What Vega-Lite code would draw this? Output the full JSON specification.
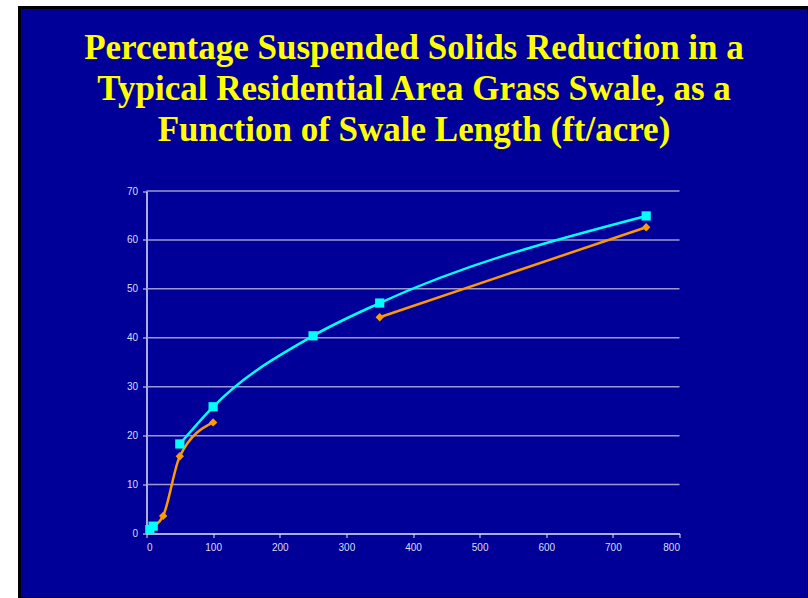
{
  "$schema": "https://vega.github.io/schema/vega-lite/v6.json",
  "width": 789,
  "height": 591,
  "autosize": {"type": "none"},
  "padding": {"left": 19.5, "top": 7.5, "right": 0, "bottom": 0},
  "background": "#ffffff",
  "title": {
    "text": [
      "Percentage Suspended Solids Reduction in a",
      "Typical Residential Area Grass Swale, as a",
      "Function of Swale Length (ft/acre)"
    ],
    "frame": "group",
    "anchor": "middle",
    "baseline": "top",
    "offset": -140.5,
    "font": "Liberation Serif",
    "fontSize": 35,
    "fontWeight": "bold",
    "color": "#ffff00",
    "lineHeight": 41
  },
  "datasets": {
    "grid": [
      {"level": 10}, {"level": 20}, {"level": 30}, {"level": 40},
      {"level": 50}, {"level": 60}, {"level": 70}
    ],
    "reduction": [
      {"series": "series 2", "segment": 1, "length": 5, "pct": 0.6},
      {"series": "series 2", "segment": 1, "length": 10, "pct": 1.2},
      {"series": "series 2", "segment": 1, "length": 25, "pct": 3.6},
      {"series": "series 2", "segment": 1, "length": 50, "pct": 15.8},
      {"series": "series 2", "segment": 1, "length": 100, "pct": 22.7},
      {"series": "series 2", "segment": 2, "length": 350, "pct": 44.2},
      {"series": "series 2", "segment": 2, "length": 750, "pct": 62.6},
      {"series": "series 1", "segment": 1, "length": 5, "pct": 0.8},
      {"series": "series 1", "segment": 1, "length": 10, "pct": 1.5},
      {"series": "series 1", "segment": 2, "length": 50, "pct": 18.3},
      {"series": "series 1", "segment": 2, "length": 100, "pct": 25.9},
      {"series": "series 1", "segment": 2, "length": 250, "pct": 40.4},
      {"series": "series 1", "segment": 2, "length": 350, "pct": 47.1},
      {"series": "series 1", "segment": 2, "length": 750, "pct": 64.9}
    ]
  },
  "layer": [
    {
      "data": {"name": "grid"},
      "mark": {"type": "rule", "color": "#9a9acc", "strokeWidth": 1.5},
      "encoding": {
        "x": {"datum": 0, "type": "quantitative",
              "scale": {"domain": [0, 800], "range": [127, 660], "nice": false, "zero": true},
              "axis": {
                "values": [0, 100, 200, 300, 400, 500, 600, 700, 800],
                "offset": -65, "grid": false, "title": null,
                "domainColor": "#e6e6f5", "domainWidth": 1.5,
                "tickColor": "#e6e6f5", "tickSize": 4, "tickWidth": 1,
                "labelPadding": 5, "labelColor": "#dcdcf0",
                "labelFont": "Liberation Sans", "labelFontSize": 10
              }},
        "x2": {"datum": 800},
        "y": {"field": "level", "type": "quantitative",
              "scale": {"domain": [0, 70], "range": [526, 183.5], "nice": false},
              "axis": {
                "values": [0, 10, 20, 30, 40, 50, 60, 70],
                "offset": -127, "grid": false, "title": null,
                "domainColor": "#e6e6f5", "domainWidth": 1.5,
                "tickColor": "#e6e6f5", "tickSize": 4, "tickWidth": 1,
                "labelPadding": 5, "labelColor": "#dcdcf0",
                "labelFont": "Liberation Sans", "labelFontSize": 10
              }}
      }
    },
    {
      "data": {"name": "reduction"},
      "mark": {"type": "line", "interpolate": "monotone", "strokeWidth": 2.5},
      "encoding": {
        "x": {"field": "length", "type": "quantitative", "title": null},
        "y": {"field": "pct", "type": "quantitative", "title": null},
        "color": {"field": "series", "type": "nominal",
                  "scale": {"domain": ["series 1", "series 2"], "range": ["#00ffff", "#ff9900"]},
                  "legend": null},
        "detail": {"field": "segment", "type": "nominal"}
      }
    },
    {
      "data": {"name": "reduction"},
      "mark": {"type": "point", "filled": true, "opacity": 1, "strokeWidth": 0},
      "encoding": {
        "x": {"field": "length", "type": "quantitative", "title": null},
        "y": {"field": "pct", "type": "quantitative", "title": null},
        "color": {"field": "series", "type": "nominal", "legend": null},
        "shape": {"field": "series", "type": "nominal",
                  "scale": {"domain": ["series 1", "series 2"], "range": ["square", "diamond"]},
                  "legend": null},
        "size": {"field": "series", "type": "nominal",
                 "scale": {"domain": ["series 1", "series 2"], "range": [85, 70]},
                 "legend": null}
      }
    }
  ],
  "config": {
    "view": {"fill": "#000099", "stroke": "#000000", "strokeWidth": 3}
  }
}
